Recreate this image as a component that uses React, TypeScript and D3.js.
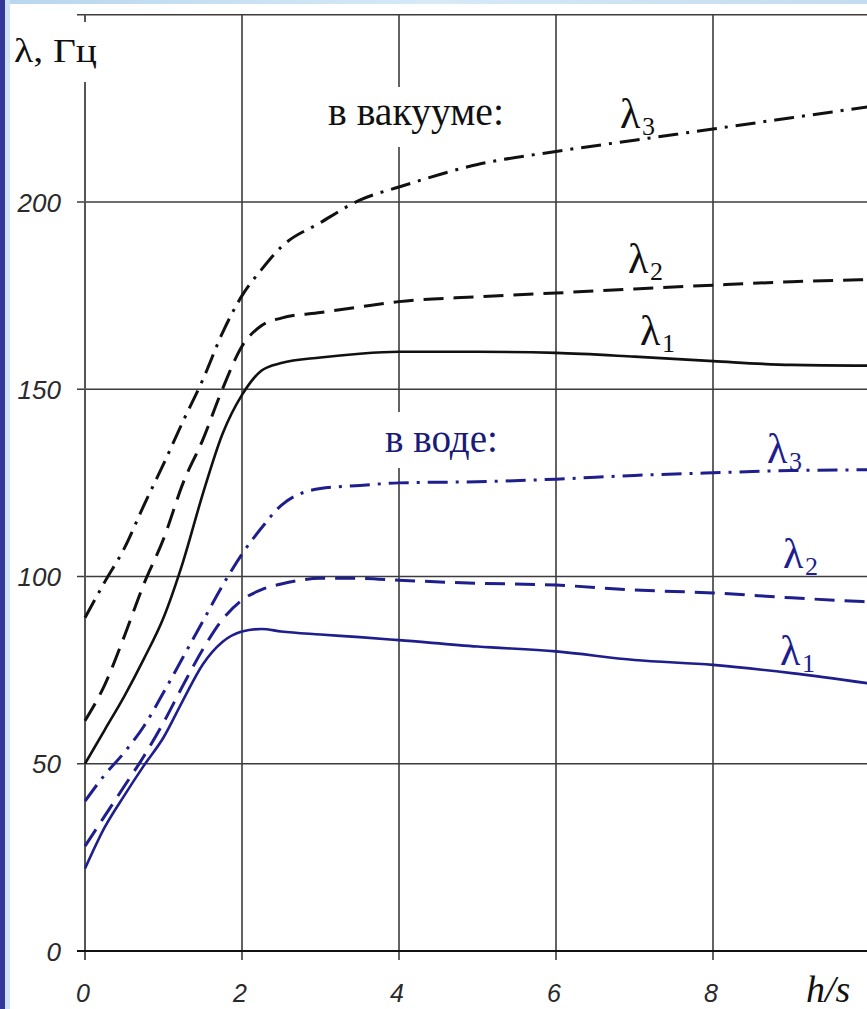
import React from "react";
import * as d3 from "d3";

// h/s sample positions shared by all curves
const hValues = [0, 0.25, 0.5, 0.75, 1, 1.25, 1.5, 1.75, 2, 2.25, 2.5, 3, 3.5, 4, 5, 6, 7, 8, 9, 10];

// в вакууме (black)
const vacL1 = [50, 59, 68, 78, 89, 104, 122, 138, 148.5, 155, 157, 158.5, 159.5, 160, 160, 159.7, 158.7, 157.5, 156.5, 156.3];
const vacL2 = [61.5, 71, 84, 98, 110, 125, 136.5, 150, 161.5, 167, 169, 170.5, 172, 173.4, 174.7, 175.7, 176.8, 177.8, 178.7, 179.3];
const vacL3 = [89, 98.5, 107.5, 119, 130, 141.5, 152.5, 165, 175, 182, 188, 194.5, 200.5, 204, 210, 213.5, 216.5, 219.5, 222.5, 225.5];

// в воде (blue)
const watL1 = [22, 33, 41.5, 49.5, 57, 67, 76.5, 82.5, 85.3, 86, 85.3, 84.5, 83.8, 83, 81.3, 80, 77.7, 76.4, 74.2, 71.4];
const watL2 = [28, 36, 44, 52, 61, 71, 80.5, 88.5, 93.7, 96.5, 98, 99.5, 99.5, 99, 98.2, 97.7, 96.4, 95.6, 94.3, 93.2];
const watL3 = [40, 47, 53, 60, 69, 78.5, 88, 97.5, 106, 113, 119, 123.5, 124.3, 125, 125.3, 126, 127, 127.7, 128.3, 128.5];

const xTicks = [0, 2, 4, 6, 8];
const yTicks = [0, 50, 100, 150, 200];
const yGrid = [50, 100, 150, 200, 250];

const BLACK = "#111";
const BLUE = "#1e1e8c";
const GRID = "#3c3c3c";

export default function App() {
  const W = 867;
  const H = 1009;
  const x = d3.scaleLinear().domain([0, 10]).range([85, 870]);
  const y = d3.scaleLinear().domain([0, 250]).range([951, 14.75]);

  const line = d3
    .line<[number, number]>()
    .x((d) => x(d[0]))
    .y((d) => y(d[1]))
    .curve(d3.curveMonotoneX);

  const mk = (vals: number[]) => line(hValues.map((h, i) => [h, vals[i]] as [number, number])) || "";

  const DASH = "20 10";
  const DASHDOT = "20 8 3 8";

  const series = [
    { vals: vacL3, color: BLACK, dash: DASHDOT, w: 3 },
    { vals: vacL2, color: BLACK, dash: DASH, w: 3 },
    { vals: vacL1, color: BLACK, dash: undefined, w: 2.6 },
    { vals: watL3, color: BLUE, dash: DASHDOT, w: 3 },
    { vals: watL2, color: BLUE, dash: DASH, w: 3 },
    { vals: watL1, color: BLUE, dash: undefined, w: 2.6 },
  ];

  const tickFont = "'Liberation Sans', Arial, sans-serif";
  const serif = "'Liberation Serif', 'Times New Roman', serif";

  const lambdaLabels = [
    { x: 620, y: 128, sub: "3", color: BLACK },
    { x: 628, y: 273, sub: "2", color: BLACK },
    { x: 640, y: 345, sub: "1", color: BLACK },
    { x: 767, y: 463, sub: "3", color: BLUE },
    { x: 783, y: 568, sub: "2", color: BLUE },
    { x: 780, y: 665, sub: "1", color: BLUE },
  ];

  return (
    <svg
      width={W}
      height={H}
      style={{ position: "absolute", left: 0, top: 0, background: "#fff" }}
    >
      <defs>
        <linearGradient id="topband" x1="0" x2="1" y1="0" y2="0">
          <stop offset="0" stopColor="#b8d6ee" />
          <stop offset="0.5" stopColor="#d6eaf6" />
          <stop offset="1" stopColor="#c4dcef" />
        </linearGradient>
      </defs>
      <rect x={0} y={0} width={W} height={H} fill="#fff" />
      <rect x={0} y={0} width={W} height={4} fill="url(#topband)" />
      <rect x={0} y={0} width={5} height={H} fill="#33379a" />
      <rect x={5} y={0} width={5} height={H} fill="#cfe2f4" />

      {/* horizontal grid */}
      {yGrid.map((v) => (
        <line key={"hg" + v} x1={77} x2={870} y1={y(v)} y2={y(v)} stroke={GRID} strokeWidth={1.6} />
      ))}
      {/* vertical grid */}
      {xTicks.filter((v) => v > 0).map((v) => (
        <line key={"vg" + v} x1={x(v)} x2={x(v)} y1={y(250)} y2={960} stroke={GRID} strokeWidth={1.6} />
      ))}
      {/* y axis */}
      <line x1={x(0)} x2={x(0)} y1={y(250)} y2={960} stroke="#555" strokeWidth={2} />
      {/* x axis */}
      <line x1={77} x2={870} y1={y(0)} y2={y(0)} stroke="#111" strokeWidth={2} />

      {/* white label backgrounds */}
      <rect x={10} y={22} width={92} height={60} fill="#fff" />
      <rect x={316} y={87} width={204} height={60} fill="#fff" />
      <rect x={372} y={412} width={138} height={56} fill="#fff" />

      {/* curves */}
      {series.map((s, i) => (
        <path
          key={"s" + i}
          d={mk(s.vals)}
          fill="none"
          stroke={s.color}
          strokeWidth={s.w}
          strokeDasharray={s.dash}
        />
      ))}

      {/* tick labels */}
      {yTicks.map((v) => (
        <text
          key={"yt" + v}
          x={61}
          y={y(v) + 9.5}
          textAnchor="end"
          fontFamily={tickFont}
          fontStyle="italic"
          fontSize={26}
          fill="#2a2a2a"
        >
          {v}
        </text>
      ))}
      {xTicks.map((v) => (
        <text
          key={"xt" + v}
          x={x(v) - 2}
          y={1002}
          textAnchor="middle"
          fontFamily={tickFont}
          fontStyle="italic"
          fontSize={25}
          fill="#2a2a2a"
        >
          {v}
        </text>
      ))}

      {/* axis titles */}
      <text x={14} y={62} fontFamily={serif} fontSize={34} fill="#111" textLength={83} lengthAdjust="spacingAndGlyphs">
        λ, Гц
      </text>
      <text x={806} y={1002} fontFamily={serif} fontStyle="italic" fontSize={38} fill="#111">
        h/s
      </text>

      {/* group labels */}
      <text x={328} y={125} fontFamily={serif} fontSize={40} fill="#111" textLength={176} lengthAdjust="spacingAndGlyphs">
        в вакууме:
      </text>
      <text x={385} y={452} fontFamily={serif} fontSize={40} fill="#1a1a78" textLength={113} lengthAdjust="spacingAndGlyphs">
        в воде:
      </text>

      {lambdaLabels.map((l, i) => (
        <g key={"lab" + i} fill={l.color} fontFamily={serif}>
          <text x={l.x} y={l.y} fontSize={42}>
            λ
          </text>
          <text x={l.x + 22} y={l.y + 7} fontSize={26}>
            {l.sub}
          </text>
        </g>
      ))}
    </svg>
  );
}
